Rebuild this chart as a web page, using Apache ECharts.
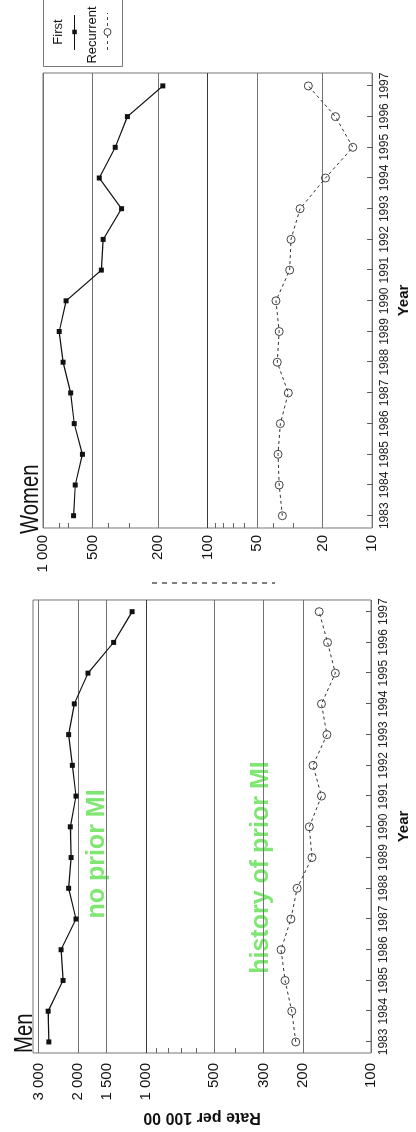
<!DOCTYPE html>
<html>
<head>
<meta charset="utf-8">
<script src="https://cdn.jsdelivr.net/npm/echarts@6/dist/echarts.min.js"></script>
<style>
html,body{margin:0;padding:0;width:416px;height:1132px;overflow:hidden;background:#fff;}
#chart{position:absolute;left:0;top:0;width:1132px;height:416px;transform-origin:0 0;transform:rotate(-90deg) translate(-1132px,0);}
</style>
</head>
<body>
<div id="chart"></div>
<script>
// ---- data ----
const years = [1983,1984,1985,1986,1987,1988,1989,1990,1991,1992,1993,1994,1995,1996,1997];
const menFirst = [2704,2723,2338,2386,2048,2208,2153,2171,2048,2126,2208,2084,1812,1393,1153];
const menRecurrent = [216,225,241,251,227,213,183,188,166,181,157,166,144,156,170];
const womenFirst = [652,637,576,646,679,755,797,724,442,431,333,455,364,307,187];
const womenRecurrent = [35.1,36.7,37.3,36.1,32.3,37.7,36.7,38.4,31.7,31.1,27.4,19.2,13.1,16.7,24.4];
const menRateTicks = [100,200,300,500,1000,1500,2000,3000];
const menMinorTicks = [400,600,700,800,900];
const womenRateTicks = [10,20,50,100,200,500,1000];
const womenMinorTicks = [30,40,60,70,80,90,300,400,700,800];
const seriesNames = ['First','Recurrent'];
const panelTitles = ['Men','Women'];
const annotations = ['no prior MI','history of prior MI'];
const rateName = 'Rate per 100 00';
const yearName = 'Year';

const FONT = "'Liberation Sans', Arial, sans-serif";
const GREEN = '#80e673';
const GRID_GREY = '#727272';
const GRID_DARK = '#3a3a3a';

function fmt(v){
  v = Math.round(v);
  if (v >= 1000) return Math.floor(v/1000) + ' ' + String(v%1000).padStart(3,'0');
  return String(v);
}
function pairs(vals){ return years.map((y,i)=>[y, vals[i]]); }

function yearAxis(gi, min, max, gap){
  return {
    type:'value', gridIndex:gi, min:min, max:max, position:'bottom',
    name:yearName, nameLocation:'middle', nameGap:gap,
    nameTextStyle:{fontFamily:FONT, fontWeight:'bold', fontSize:15, color:'#111'},
    axisLine:{show:false},
    axisTick:{show:true, inside:true, length:5, customValues:years, lineStyle:{color:'#555'}},
    axisLabel:{customValues:years, fontFamily:FONT, fontSize:12, color:'#222', margin:7,
      formatter:v=>String(Math.round(v))},
    splitLine:{show:false}
  };
}
function rateAxis(gi, min, max, ticks, margin, darkValue, extra){
  const colors = ticks.map(t => t === darkValue ? GRID_DARK : GRID_GREY);
  return Object.assign({
    type:'log', logBase:10, gridIndex:gi, min:min, max:max, position:'left',
    axisLine:{show:false},
    axisTick:{show:false, customValues:ticks},
    axisLabel:{customValues:ticks, formatter:fmt, fontFamily:FONT, fontSize:15, color:'#111', margin:margin},
    splitLine:{show:true, lineStyle:{color:colors, width:1}}
  }, extra || {});
}
function minorAxis(gi, min, max, ticks){
  return {
    type:'log', logBase:10, gridIndex:gi, min:min, max:max, position:'left', offset:0,
    axisLine:{show:false},
    axisLabel:{show:false},
    splitLine:{show:false},
    axisTick:{show:true, inside:true, length:5, customValues:ticks, lineStyle:{color:'#666'}}
  };
}
function firstSeries(xi, yi, vals){
  return {type:'line', name:seriesNames[0], xAxisIndex:xi, yAxisIndex:yi, data:pairs(vals),
    symbol:'rect', symbolSize:5, itemStyle:{color:'#111'}, lineStyle:{color:'#111', width:1.2},
    silent:true, z:5};
}
function recSeries(xi, yi, vals){
  return {type:'line', name:seriesNames[1], xAxisIndex:xi, yAxisIndex:yi, data:pairs(vals),
    symbol:'circle', symbolSize:8,
    itemStyle:{color:'rgba(0,0,0,0)', borderColor:'#444', borderWidth:1},
    lineStyle:{color:'#333', width:1, type:[3,3]},
    silent:true, z:5};
}

const chart = echarts.init(document.getElementById('chart'), null, {renderer:'canvas', width:1132, height:416});
chart.setOption({
  animation:false,
  backgroundColor:'#fff',
  textStyle:{fontFamily:FONT},
  grid:[
    {left:79, top:33, width:453, height:341, show:true, borderColor:'#777', borderWidth:1, backgroundColor:'transparent'},
    {left:604, top:43, width:455, height:338, show:true, borderColor:'#777', borderWidth:1, backgroundColor:'transparent'}
  ],
  xAxis:[
    yearAxis(0, 1982.64, 1997.38, 25),
    yearAxis(1, 1982.60, 1997.42, 19)
  ],
  yAxis:[
    rateAxis(0, 100, 3180, menRateTicks, 10, 1000, {
      name:rateName, nameLocation:'middle', nameRotate:90, nameGap:56,
      nameTextStyle:{fontFamily:FONT, fontWeight:'bold', fontSize:16, color:'#111'}
    }),
    minorAxis(0, 100, 3180, menMinorTicks),
    rateAxis(1, 10, 1000, womenRateTicks, 7, 100),
    minorAxis(1, 10, 1000, womenMinorTicks)
  ],
  series:[
    firstSeries(0, 0, menFirst),
    recSeries(0, 0, menRecurrent),
    firstSeries(1, 2, womenFirst),
    recSeries(1, 2, womenRecurrent)
  ],
  graphic:[
    {type:'text', x:79, y:24.5, scaleX:0.78, style:{text:panelTitles[0], font:'26px '+FONT, fill:'#111', align:'left', verticalAlign:'middle'}},
    {type:'text', x:598, y:31, scaleX:0.78, style:{text:panelTitles[1], font:'26px '+FONT, fill:'#111', align:'left', verticalAlign:'middle'}},
    {type:'text', x:278, y:97, style:{text:annotations[0], font:'bold 25px '+FONT, fill:GREEN, align:'center', verticalAlign:'middle'}},
    {type:'text', x:264.5, y:261, style:{text:annotations[1], font:'bold 25px '+FONT, fill:GREEN, align:'center', verticalAlign:'middle'}},
    // legend box
    {type:'rect', shape:{x:1065.5, y:43.5, width:80, height:79}, style:{fill:'none', stroke:'#777', lineWidth:1}},
    {type:'text', x:1100, y:58.5, style:{text:seriesNames[0], font:'13px '+FONT, fill:'#111', align:'center', verticalAlign:'middle'}},
    {type:'line', shape:{x1:1082, y1:74.5, x2:1117, y2:74.5}, style:{stroke:'#111', lineWidth:1}},
    {type:'rect', shape:{x:1097.8, y:72.3, width:4.5, height:4.5}, style:{fill:'#111'}},
    {type:'text', x:1097, y:92.5, style:{text:seriesNames[1], font:'13px '+FONT, fill:'#111', align:'center', verticalAlign:'middle'}},
    {type:'line', shape:{x1:1082, y1:107.5, x2:1119, y2:107.5}, style:{stroke:'#444', lineWidth:1, lineDash:[3,3]}},
    {type:'circle', shape:{cx:1100, cy:107.5, r:3.5}, style:{fill:'#fff', stroke:'#444', lineWidth:1}},
    // faint cut-off axis title of the Women panel
    {type:'line', shape:{x1:549, y1:152, x2:549, y2:275}, style:{stroke:'#555', lineWidth:1.5, lineDash:[5,5]}}
  ]
});
</script>
</body>
</html>
